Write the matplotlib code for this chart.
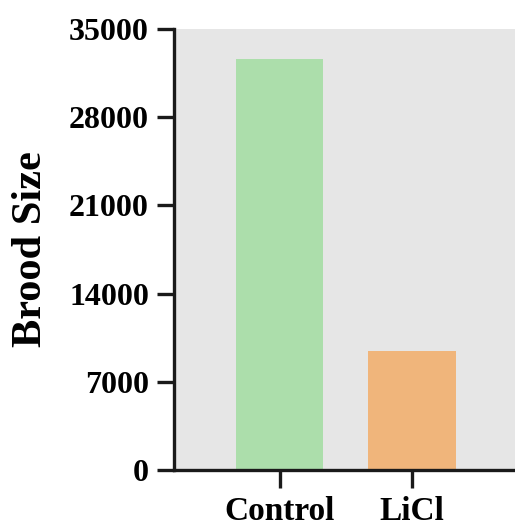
import matplotlib
matplotlib.use("Agg")
import matplotlib.pyplot as plt

categories = ["Control", "LiCl"]
values = [32600, 9450]
colors = ["#acdeab", "#f0b57b"]
yticks = [0, 7000, 14000, 21000, 28000, 35000]

plt.rcParams['font.family'] = ['Liberation Serif', 'DejaVu Serif']
plt.rcParams['font.weight'] = 'bold'

fig = plt.figure(figsize=(5.15, 5.27), dpi=100)
ax = fig.add_axes([174/515, 1-470/527, (515-174)/515, (470-29)/527])
ax.set_facecolor("#e6e6e6")

x = list(range(len(categories)))
ax.bar(x, values, width=0.66, color=colors, zorder=2)

ax.set_xlim(-0.80, 1.78)
ax.set_ylim(0, 35000)
ax.set_yticks(yticks)
ax.set_yticklabels([str(t) for t in yticks])
ax.set_xticks(x)
ax.set_xticklabels(categories)

for s in ["top", "right"]:
    ax.spines[s].set_visible(False)
for s in ["left", "bottom"]:
    ax.spines[s].set_linewidth(2.4)
    ax.spines[s].set_color("#1a1a1a")

ax.tick_params(axis='y', which='major', direction='out', length=12, width=2.4,
               color="#1a1a1a", labelsize=23, pad=6)
ax.tick_params(axis='x', which='major', direction='out', length=13, width=2.4,
               color="#1a1a1a", labelsize=24, pad=6)
for lbl in ax.get_xticklabels() + ax.get_yticklabels():
    lbl.set_fontweight('bold')

ax.set_ylabel("Brood Size", fontsize=30.5, fontweight='bold', labelpad=14)

fig.savefig("out.png", dpi=100)
